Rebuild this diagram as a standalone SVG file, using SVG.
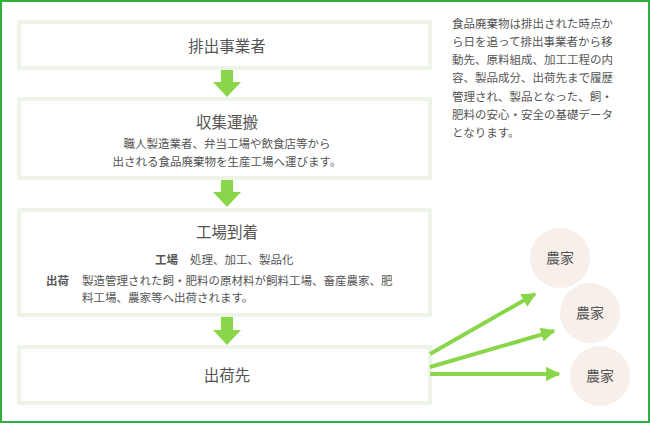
<svg xmlns="http://www.w3.org/2000/svg" width="650" height="423" viewBox="0 0 650 423">
<style>
text{font-family:"Noto Sans CJK JP","Noto Sans",sans-serif;fill:#555}
.box{fill:#fff;stroke:#eef4e7;stroke-width:4}
.t{font-size:15.5px;text-anchor:middle}
.s{font-size:11.5px}
.c{text-anchor:middle}
.b{font-weight:bold}
.down{fill:#8ad64a}
.ln{stroke:#8ad64a;stroke-width:4;fill:none}
.farm{fill:#f7efea}
</style>
<defs><marker id="ah" viewBox="0 0 10 10" refX="9" refY="5" markerWidth="3.6" markerHeight="3.6" orient="auto"><path d="M0,0L10,5L0,10z" fill="#8ad64a"/></marker></defs>
<rect x="1" y="1" width="648" height="421" fill="#fff" stroke="#2fb03a" stroke-width="2"/>
<g id="n1"><rect class="box" x="19" y="22" width="411" height="46"/><text class="t" x="227" y="52">排出事業者</text></g>
<g id="n2"><rect class="box" x="19" y="99" width="411" height="79"/><text class="t" x="227" y="128">収集運搬</text>
<text class="s c" x="227" y="148">職人製造業者、弁当工場や飲食店等から</text><text class="s c" x="227" y="166">出される食品廃棄物を生産工場へ運びます。</text></g>
<g id="n3"><rect class="box" x="19" y="210" width="411" height="105"/><text class="t" x="227" y="238">工場到着</text>
<text class="s b" x="155" y="264">工場</text><text class="s" x="190" y="264">処理、加工、製品化</text>
<text class="s b" x="46" y="285">出荷</text><text class="s" x="82" y="285">製造管理された飼・肥料の原材料が飼料工場、畜産農家、肥</text><text class="s" x="82" y="302">料工場、農家等へ出荷されます。</text></g>
<g id="n4"><rect class="box" x="19" y="347" width="411" height="56"/><text class="t" x="227" y="381">出荷先</text></g>
<g id="f1"><circle class="farm" cx="560" cy="258" r="30"/><text class="t" x="560" y="263" style="font-size:14px">農家</text></g>
<g id="f2"><circle class="farm" cx="590" cy="313" r="30"/><text class="t" x="590" y="318" style="font-size:14px">農家</text></g>
<g id="f3"><circle class="farm" cx="600" cy="376" r="30"/><text class="t" x="600" y="381" style="font-size:14px">農家</text></g>
<g id="connectors">
<path class="down" d="M221,70H233V82H241L227,97L213,82H221z"/>
<path class="down" d="M221,180H233V192H241L227,207L213,192H221z"/>
<path class="down" d="M221,317H233V330H241L227,345L213,330H221z"/>
<line class="ln" x1="430" y1="354" x2="535" y2="294" marker-end="url(#ah)"/>
<line class="ln" x1="430" y1="367" x2="554" y2="331" marker-end="url(#ah)"/>
<line class="ln" x1="430" y1="374" x2="559" y2="374" marker-end="url(#ah)"/>
</g>
<g id="note" style="font-size:11.5px">
<text x="452" y="28" class="s">食品廃棄物は排出された時点か</text>
<text x="452" y="46" class="s">ら日を追って排出事業者から移</text>
<text x="452" y="64" class="s">動先、原料組成、加工工程の内</text>
<text x="452" y="82" class="s">容、製品成分、出荷先まで履歴</text>
<text x="452" y="101" class="s">管理され、製品となった、飼・</text>
<text x="452" y="119" class="s">肥料の安心・安全の基礎データ</text>
<text x="452" y="137" class="s">となります。</text>
</g>
</svg>
